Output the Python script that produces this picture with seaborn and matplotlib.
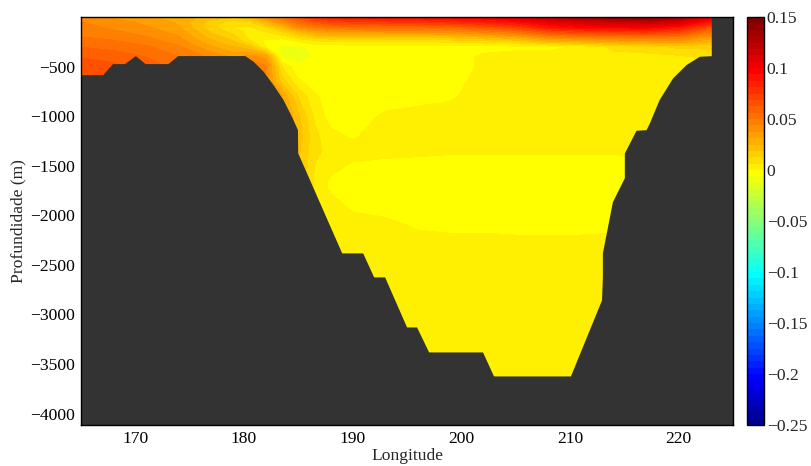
import numpy as np
import matplotlib
matplotlib.use("Agg")
import matplotlib.pyplot as plt
from matplotlib.colors import ListedColormap, BoundaryNorm
from matplotlib.cm import ScalarMappable
from matplotlib.ticker import FuncFormatter
import seaborn as sns

# Section grid: longitude (deg E) and depth (m)
lon = [165, 168, 171, 174, 177, 179, 180.5, 182, 183.5, 185, 186.5, 188,
       190, 193, 196, 199, 202, 205, 208, 211, 214, 217, 220, 223]
depth = [0, -50, -100, -150, -200, -250, -300, -400, -500, -650, -800, -1000,
         -1200, -1350, -1500, -1700, -1900, -2100, -2300, -2700, -3200, -3700]

# Anomaly field, one row per depth level (columns follow `lon`)
anomaly = [
    [0.040, 0.036, 0.032, 0.028, 0.022, 0.020, 0.025, 0.040, 0.050, 0.065, 0.078, 0.086, 0.090, 0.092, 0.094, 0.097, 0.100, 0.108, 0.120, 0.130, 0.138, 0.142, 0.132, 0.105],
    [0.044, 0.040, 0.036, 0.030, 0.016, 0.010, 0.012, 0.025, 0.040, 0.055, 0.064, 0.070, 0.073, 0.075, 0.077, 0.080, 0.085, 0.092, 0.104, 0.112, 0.116, 0.120, 0.112, 0.088],
    [0.046, 0.042, 0.038, 0.032, 0.014, 0.006, 0.006, 0.012, 0.025, 0.040, 0.048, 0.052, 0.054, 0.055, 0.056, 0.058, 0.064, 0.072, 0.088, 0.096, 0.098, 0.100, 0.090, 0.065],
    [0.048, 0.045, 0.041, 0.035, 0.018, 0.010, 0.004, 0.006, 0.012, 0.024, 0.032, 0.036, 0.037, 0.038, 0.038, 0.040, 0.045, 0.052, 0.066, 0.072, 0.074, 0.076, 0.070, 0.050],
    [0.050, 0.048, 0.044, 0.038, 0.022, 0.015, 0.004, 0.002, 0.003, 0.010, 0.016, 0.019, 0.020, 0.020, 0.020, 0.022, 0.026, 0.032, 0.044, 0.048, 0.050, 0.052, 0.050, 0.035],
    [0.053, 0.051, 0.047, 0.041, 0.027, 0.020, 0.008, -0.002, -0.004, 0.000, 0.004, 0.005, 0.006, 0.006, 0.006, 0.007, 0.009, 0.012, 0.022, 0.026, 0.030, 0.032, 0.034, 0.025],
    [0.056, 0.054, 0.051, 0.045, 0.032, 0.025, 0.020, 0.000, -0.008, -0.008, -0.004, -0.003, -0.003, -0.003, -0.003, -0.003, -0.002, -0.002, -0.002, 0.001, 0.008, 0.010, 0.014, 0.014],
    [0.062, 0.060, 0.056, 0.050, 0.042, 0.036, 0.040, 0.035, -0.008, -0.009, -0.006, -0.003, -0.003, -0.003, -0.003, -0.003, 0.001, 0.003, 0.003, 0.003, 0.004, 0.004, 0.005, 0.008],
    [0.066, 0.064, 0.060, 0.054, 0.048, 0.045, 0.050, 0.045, 0.006, -0.005, -0.003, -0.003, -0.003, -0.003, -0.003, -0.003, 0.001, 0.003, 0.003, 0.003, 0.003, 0.003, 0.004, 0.006],
    [0.066, 0.064, 0.060, 0.054, 0.050, 0.048, 0.050, 0.042, 0.016, 0.001, -0.003, -0.003, -0.003, -0.003, -0.003, -0.002, 0.002, 0.003, 0.003, 0.003, 0.003, 0.003, 0.004, 0.006],
    [0.066, 0.064, 0.060, 0.054, 0.050, 0.048, 0.050, 0.045, 0.032, 0.012, 0.001, -0.003, -0.003, -0.003, -0.003, -0.001, 0.003, 0.003, 0.003, 0.003, 0.003, 0.003, 0.004, 0.006],
    [0.066, 0.064, 0.060, 0.054, 0.050, 0.048, 0.050, 0.045, 0.035, 0.020, 0.005, -0.003, -0.003, 0.001, 0.003, 0.003, 0.003, 0.003, 0.003, 0.003, 0.003, 0.003, 0.004, 0.006],
    [0.066, 0.064, 0.060, 0.054, 0.050, 0.048, 0.050, 0.045, 0.035, 0.022, 0.008, 0.002, -0.001, 0.004, 0.003, 0.003, 0.003, 0.003, 0.003, 0.003, 0.003, 0.003, 0.004, 0.006],
    [0.066, 0.064, 0.060, 0.054, 0.050, 0.048, 0.050, 0.045, 0.035, 0.020, 0.008, 0.004, 0.003, 0.003, 0.002, 0.001, 0.001, 0.001, 0.001, 0.001, 0.001, 0.003, 0.004, 0.006],
    [0.066, 0.064, 0.060, 0.054, 0.050, 0.048, 0.050, 0.045, 0.035, 0.020, 0.006, 0.002, -0.001, -0.003, -0.003, -0.003, -0.003, -0.003, -0.003, -0.003, -0.003, -0.002, 0.003, 0.006],
    [0.066, 0.064, 0.060, 0.054, 0.050, 0.048, 0.050, 0.045, 0.035, 0.020, 0.005, -0.002, -0.003, -0.003, -0.003, -0.003, -0.003, -0.003, -0.003, -0.003, -0.003, -0.002, 0.003, 0.006],
    [0.066, 0.064, 0.060, 0.054, 0.050, 0.048, 0.050, 0.045, 0.035, 0.020, 0.006, 0.003, -0.002, -0.003, -0.003, -0.003, -0.003, -0.003, -0.003, -0.003, -0.003, -0.002, 0.003, 0.006],
    [0.066, 0.064, 0.060, 0.054, 0.050, 0.048, 0.050, 0.045, 0.035, 0.020, 0.006, 0.004, 0.004, 0.002, -0.001, -0.002, -0.002, -0.003, -0.003, -0.003, -0.002, 0.000, 0.003, 0.006],
    [0.066, 0.064, 0.060, 0.054, 0.050, 0.048, 0.050, 0.045, 0.035, 0.020, 0.006, 0.004, 0.003, 0.003, 0.003, 0.003, 0.003, 0.003, 0.003, 0.003, 0.003, 0.003, 0.003, 0.006],
    [0.066, 0.064, 0.060, 0.054, 0.050, 0.048, 0.050, 0.045, 0.035, 0.020, 0.006, 0.004, 0.003, 0.003, 0.003, 0.003, 0.003, 0.003, 0.003, 0.003, 0.003, 0.003, 0.003, 0.006],
    [0.066, 0.064, 0.060, 0.054, 0.050, 0.048, 0.050, 0.045, 0.035, 0.020, 0.006, 0.004, 0.003, 0.003, 0.003, 0.003, 0.003, 0.003, 0.003, 0.003, 0.003, 0.003, 0.003, 0.006],
    [0.066, 0.064, 0.060, 0.054, 0.050, 0.048, 0.050, 0.045, 0.035, 0.020, 0.006, 0.004, 0.003, 0.003, 0.003, 0.003, 0.003, 0.003, 0.003, 0.003, 0.003, 0.003, 0.003, 0.006],
]

# Sea floor along the section
bathy_lon = [165, 167, 167.9, 169, 170, 170.9, 173, 173.9, 180.07, 180.84, 181.76,
             182.67, 183.59, 184.37, 184.92, 184.94, 188.99, 190.92, 191.93, 192.94,
             194.96, 195.88, 196.99, 201.95, 202.96, 210.04, 212.9, 212.98, 212.98,
             213.9, 215.0, 215.0, 216.07, 217.0, 217.3, 218.2, 219.44, 220.67,
             221.9, 223.0, 223.0, 225.0]
bathy_depth = [-581, -581, -470, -470, -389, -470, -470, -389, -389, -446, -547,
               -682, -833, -1002, -1136, -1369, -2379, -2379, -2621, -2621,
               -3126, -3126, -3378, -3378, -3620, -3620, -2853, -2621, -2379,
               -1863, -1621, -1372, -1143, -1136, -1069, -833, -614, -480,
               -396, -390, 0, 0]

lon_ticks = [170, 180, 190, 200, 210, 220]
depth_ticks = [-4000, -3500, -3000, -2500, -2000, -1500, -1000, -500]
cbar_ticks = [-0.25, -0.2, -0.15, -0.1, -0.05, 0, 0.05, 0.1, 0.15]
vmin, vmax = -0.25, 0.15


def jet64(m=64):
    """Classic 64-step jet colour table."""
    n = int(np.ceil(m / 4))
    u = np.concatenate([np.arange(1, n + 1) / n, np.ones(n - 1), np.arange(n, 0, -1) / n])
    g = int(np.ceil(n / 2)) - (1 if m % 4 == 1 else 0) + np.arange(1, len(u) + 1)
    r = g + n
    b = g - n
    table = np.zeros((m, 3))
    ok = r <= m
    table[r[ok] - 1, 0] = u[ok]
    ok = (g >= 1) & (g <= m)
    table[g[ok] - 1, 1] = u[ok]
    ok = b >= 1
    table[b[ok] - 1, 2] = u[ok]
    return table


sns.set_theme(style="white")
plt.rcParams["font.family"] = ["Liberation Serif", "DejaVu Serif"]
plt.rcParams["axes.unicode_minus"] = True

cmap = ListedColormap(jet64(64))
levels = np.linspace(vmin, vmax, 65)
norm = BoundaryNorm(levels, cmap.N)

W, H = 811, 466
fig = plt.figure(figsize=(W / 100, H / 100), dpi=100)
fig.patch.set_facecolor("white")
ax = fig.add_axes([81 / W, 41 / H, 652 / W, 408 / H])

ax.contourf(lon, depth, np.array(anomaly), levels=levels, cmap=cmap, norm=norm)
ax.fill_between(bathy_lon, bathy_depth, -4200, color="#333333", linewidth=0, zorder=3)

ax.set_xlim(165, 225)
ax.set_ylim(-4115, 0)
ax.set_xticks(lon_ticks)
ax.set_yticks(depth_ticks)
fs = 12.6
ax.tick_params(direction="in", top=True, right=True, length=5, width=0.8,
               labelsize=fs, colors="black", pad=4)
ax.set_xlabel("Longitude", fontsize=fs, labelpad=1)
ax.set_ylabel("Profundidade (m)", fontsize=fs, labelpad=3)
for s in ax.spines.values():
    s.set_visible(True)
    s.set_color("black")
    s.set_linewidth(1.0)
    s.set_zorder(5)

cax = fig.add_axes([747 / W, 41 / H, 17 / W, 408 / H])
sm = ScalarMappable(norm=norm, cmap=cmap)
cb = fig.colorbar(sm, cax=cax, ticks=cbar_ticks, boundaries=levels)
cb.ax.yaxis.set_major_formatter(FuncFormatter(lambda v, p: ("%g" % round(v, 2)).replace("-", "\u2212")))
cb.ax.tick_params(direction="in", length=4, width=0.8, labelsize=fs, pad=2)
cb.outline.set_linewidth(1.0)
cb.outline.set_edgecolor("black")
cb.ax.minorticks_off()

fig.savefig("out.png", dpi=100)
